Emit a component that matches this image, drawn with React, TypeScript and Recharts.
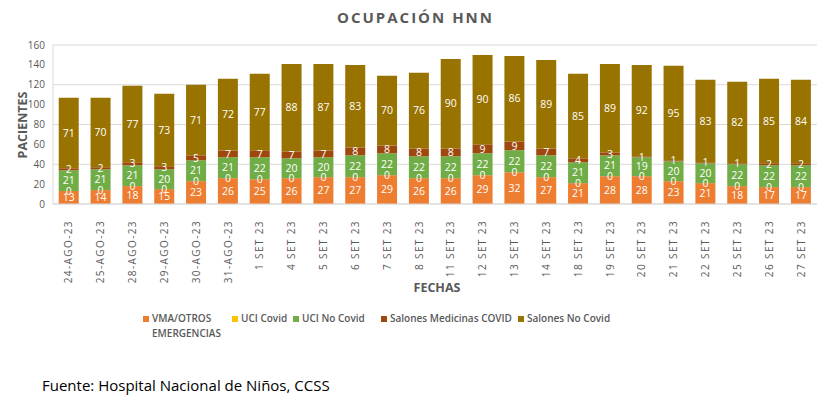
import React from 'react';
import { BarChart, Bar, XAxis, YAxis, CartesianGrid, LabelList } from 'recharts';

const fechas = [
  '24-AGO-23', '25-AGO-23', '28-AGO-23', '29-AGO-23', '30-AGO-23', '31-AGO-23',
  '1 SET 23', '4 SET 23', '5 SET 23', '6 SET 23', '7 SET 23', '8 SET 23',
  '11 SET 23', '12 SET 23', '13 SET 23', '14 SET 23', '18 SET 23', '19 SET 23',
  '20 SET 23', '21 SET 23', '22 SET 23', '25 SET 23', '26 SET 23', '27 SET 23',
];
const vmaOtros = [13, 14, 18, 15, 23, 26, 25, 26, 27, 27, 29, 26, 26, 29, 32, 27, 21, 28, 28, 23, 21, 18, 17, 17];
const uciCovid = [0, 0, 0, 0, 0, 0, 0, 0, 0, 0, 0, 0, 0, 0, 0, 0, 0, 0, 0, 0, 0, 0, 0, 0];
const uciNoCovid = [21, 21, 21, 20, 21, 21, 22, 20, 20, 22, 22, 22, 22, 22, 22, 22, 21, 21, 19, 20, 20, 22, 22, 22];
const salonesCovid = [2, 2, 3, 3, 5, 7, 7, 7, 7, 8, 8, 8, 8, 9, 9, 7, 4, 3, 1, 1, 1, 1, 2, 2];
const salonesNoCovid = [71, 70, 77, 73, 71, 72, 77, 88, 87, 83, 70, 76, 90, 90, 86, 89, 85, 89, 92, 95, 83, 82, 85, 84];
const yTicks = [0, 20, 40, 60, 80, 100, 120, 140, 160];

const series = [
  { key: 'vma', name: 'VMA/OTROS EMERGENCIAS', color: '#ED7D31' },
  { key: 'uciCovid', name: 'UCI Covid', color: '#FFC000' },
  { key: 'uciNoCovid', name: 'UCI No Covid', color: '#70AD47' },
  { key: 'salonesCovid', name: 'Salones Medicinas COVID', color: '#9E480E' },
  { key: 'salonesNoCovid', name: 'Salones No Covid', color: '#997300' },
];

const data = fechas.map((f, i) => ({
  fecha: f,
  vma: vmaOtros[i],
  uciCovid: uciCovid[i],
  uciNoCovid: uciNoCovid[i],
  salonesCovid: salonesCovid[i],
  salonesNoCovid: salonesNoCovid[i],
}));

const FONT = '"Open Sans", Calibri, sans-serif';
const GRAY = '#595959';

const DateTick = (props: any) => {
  const { x, y, payload } = props;
  return (
    <text
      x={x}
      y={y + 8}
      transform={`rotate(-90, ${x}, ${y + 8})`}
      textAnchor="end"
      dy="0.35em"
      fontSize={10}
      letterSpacing={1.4}
      fill={GRAY}
      fontFamily={FONT}
    >
      {payload.value}
    </text>
  );
};

// the UCI Covid bar has zero height, so its label sits on the bottom edge of the next segment
const EdgeLabel = (props: any) => {
  const { x, y, width, height, value } = props;
  return (
    <text x={x + width / 2} y={y + height} dy="0.35em" textAnchor="middle" fill="#FFFFFF" fontSize={10.5} fontFamily={FONT}>
      {value}
    </text>
  );
};

// legend item offsets, matched to the reference layout
const legendLeft = [143, 232, 293, 381, 518];

const ChartLegend = () => (
  <div style={{ position: 'absolute', left: 0, top: 311, width: 835, height: 40, fontFamily: FONT, fontSize: 10, fontWeight: 600, color: GRAY }}>
    {series.map((s, i) => (
      <div key={s.key} style={{ position: 'absolute', left: legendLeft[i], top: 0, display: 'flex', alignItems: 'flex-start' }}>
        <span style={{ width: 6, height: 6, background: s.color, marginTop: 5, marginRight: 3, flex: 'none' }} />
        <span style={{ lineHeight: '15px', width: i === 0 ? 76 : undefined, whiteSpace: i === 0 ? 'normal' : 'nowrap' }}>
          {s.name}
        </span>
      </div>
    ))}
  </div>
);

const App: React.FC = () => {
  return (
    <div style={{ position: 'absolute', left: 0, top: 0, width: 835, height: 407, background: '#fff', fontFamily: FONT }}>
      <div style={{ position: 'absolute', top: 7, left: 0, width: 835, textAlign: 'center', fontSize: 15, fontWeight: 700, letterSpacing: 2, color: GRAY }}>
        <span style={{ position: 'relative', left: -2 }}>OCUPACIÓN HNN</span>
      </div>
      <div
        style={{
          position: 'absolute', left: 22, top: 125, transform: 'translate(-50%, -50%) rotate(-90deg)',
          fontSize: 12.5, fontWeight: 700, color: GRAY, whiteSpace: 'nowrap',
        }}
      >
        PACIENTES
      </div>
      <div style={{ position: 'absolute', left: 437, top: 287, transform: 'translate(-50%, -50%)', fontSize: 12.5, fontWeight: 700, color: GRAY }}>
        FECHAS
      </div>
      <div style={{ position: 'absolute', left: 42, top: 375, fontSize: 15, color: '#000' }}>
        Fuente: Hospital Nacional de Niños, CCSS
      </div>
      <BarChart
        width={835}
        height={407}
        data={data}
        margin={{ top: 45, right: 18, left: 0, bottom: 123 }}
        barCategoryGap="18%"
      >
        <CartesianGrid vertical={false} stroke="#D9D9D9" />
        <XAxis
          dataKey="fecha"
          interval={0}
          height={80}
          tick={<DateTick />}
          tickLine={false}
          axisLine={{ stroke: '#D9D9D9' }}
        />
        <YAxis
          width={53}
          domain={[0, 160]}
          ticks={yTicks}
          tickLine={false}
          axisLine={{ stroke: '#D9D9D9' }}
          tick={{ fontSize: 10, fill: GRAY, fontFamily: FONT }}
        />
        {series.map((s) => (
          <Bar key={s.key} dataKey={s.key} name={s.name} stackId="a" fill={s.color} isAnimationActive={false}>
            {s.key === 'uciNoCovid' && <LabelList dataKey="uciCovid" content={<EdgeLabel />} />}
            {s.key !== 'uciCovid' && (
              <LabelList dataKey={s.key} position="center" fill="#FFFFFF" fontSize={10.5} fontFamily={FONT} />
            )}
          </Bar>
        ))}
      </BarChart>
      <ChartLegend />
    </div>
  );
};

export default App;
